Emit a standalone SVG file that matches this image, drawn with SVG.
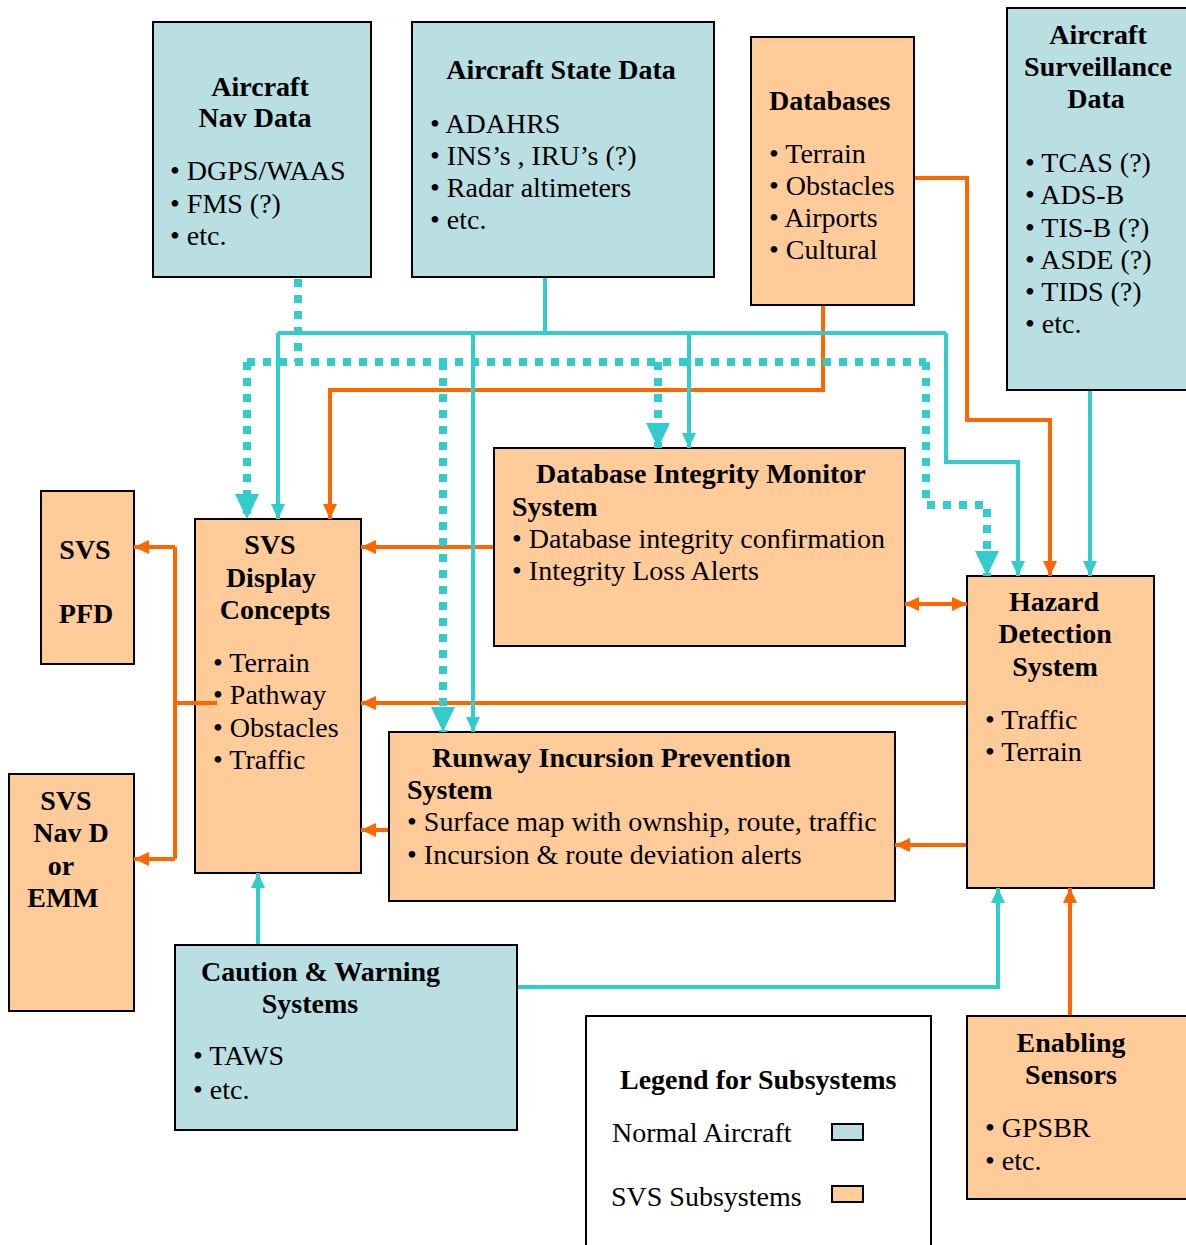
<svg xmlns="http://www.w3.org/2000/svg" width="1186" height="1245" viewBox="0 0 1186 1245" font-family="'Liberation Serif', 'Times New Roman', serif" font-size="28">
<style>
.blue{fill:#b9dfe2;stroke:#000;stroke-width:2}
.orng{fill:#ffcc99;stroke:#000;stroke-width:2}
.wht{fill:#fff;stroke:#000;stroke-width:2}
.t{font-weight:bold}
.c{text-anchor:middle}
.cy{fill:none;stroke:#33cccc;stroke-width:4}
.cyd{fill:none;stroke:#33cccc;stroke-width:8;stroke-dasharray:8 8}
.or{fill:none;stroke:#ff6600;stroke-width:4}
</style>
<defs>
<marker id="aC" markerUnits="userSpaceOnUse" markerWidth="16" markerHeight="16" refX="15" refY="8" orient="auto"><path d="M0,1 L15,8 L0,15 Z" fill="#33cccc"/></marker>
<marker id="aD" markerUnits="userSpaceOnUse" markerWidth="26" markerHeight="26" refX="25" refY="13" orient="auto"><path d="M0,1 L25,13 L0,25 Z" fill="#33cccc"/></marker>
<marker id="aO" markerUnits="userSpaceOnUse" markerWidth="16" markerHeight="16" refX="15" refY="8" orient="auto"><path d="M0,1 L15,8 L0,15 Z" fill="#ff6600"/></marker>
<marker id="aOs" markerUnits="userSpaceOnUse" markerWidth="16" markerHeight="16" refX="1" refY="8" orient="auto"><path d="M15,1 L0,8 L15,15 Z" fill="#ff6600"/></marker>
</defs>
<g id="nav-data">
<rect class="blue" x="153" y="22" width="218" height="255"/>
<text class="t c" x="260" y="96">Aircraft</text>
<text class="t c" x="255" y="127">Nav Data</text>
<text x="170" y="180">• DGPS/WAAS</text>
<text x="170" y="213">• FMS (?)</text>
<text x="170" y="245">• etc.</text>
</g>
<g id="state-data">
<rect class="blue" x="412" y="22" width="302" height="255"/>
<text class="t c" x="561" y="79">Aircraft State Data</text>
<text x="430" y="133">• ADAHRS</text>
<text x="430" y="165">• INS’s , IRU’s (?)</text>
<text x="430" y="197">• Radar altimeters</text>
<text x="430" y="229">• etc.</text>
</g>
<g id="databases">
<rect class="orng" x="751" y="37" width="163" height="268"/>
<text class="t" x="769" y="110">Databases</text>
<text x="769" y="163">• Terrain</text>
<text x="769" y="195">• Obstacles</text>
<text x="769" y="227">• Airports</text>
<text x="769" y="259">• Cultural</text>
</g>
<g id="surveillance">
<rect class="blue" x="1007" y="8" width="190" height="382"/>
<text class="t c" x="1098" y="44">Aircraft</text>
<text class="t c" x="1098" y="76">Surveillance</text>
<text class="t c" x="1096" y="108">Data</text>
<text x="1025" y="172">• TCAS (?)</text>
<text x="1025" y="204">• ADS-B</text>
<text x="1025" y="237">• TIS-B (?)</text>
<text x="1025" y="269">• ASDE (?)</text>
<text x="1025" y="301">• TIDS (?)</text>
<text x="1025" y="333">• etc.</text>
</g>
<g id="svs-pfd">
<rect class="orng" x="41" y="491" width="93" height="173"/>
<text class="t c" x="85" y="559">SVS</text>
<text class="t c" x="86" y="623">PFD</text>
</g>
<g id="svs-display">
<rect class="orng" x="195" y="519" width="166" height="354"/>
<text class="t c" x="270" y="554">SVS</text>
<text class="t c" x="271" y="587">Display</text>
<text class="t c" x="275" y="619">Concepts</text>
<text x="213" y="672">• Terrain</text>
<text x="213" y="704">• Pathway</text>
<text x="213" y="737">• Obstacles</text>
<text x="213" y="769">• Traffic</text>
</g>
<g id="dim">
<rect class="orng" x="494" y="448" width="411" height="198"/>
<text class="t" x="536" y="483">Database Integrity Monitor</text>
<text class="t" x="512" y="516">System</text>
<text x="512" y="548">• Database integrity confirmation</text>
<text x="512" y="580">• Integrity Loss Alerts</text>
</g>
<g id="hazard">
<rect class="orng" x="967" y="576" width="187" height="312"/>
<text class="t c" x="1054" y="611">Hazard</text>
<text class="t c" x="1055" y="643">Detection</text>
<text class="t c" x="1055" y="676">System</text>
<text x="985" y="729">• Traffic</text>
<text x="985" y="761">• Terrain</text>
</g>
<g id="runway">
<rect class="orng" x="389" y="732" width="506" height="169"/>
<text class="t" x="432" y="767">Runway Incursion Prevention</text>
<text class="t" x="407" y="799">System</text>
<text x="407" y="831">• Surface map with ownship, route, traffic</text>
<text x="407" y="864">• Incursion &amp; route deviation alerts</text>
</g>
<g id="nav-d">
<rect class="orng" x="9" y="774" width="125" height="237"/>
<text class="t c" x="66" y="810">SVS</text>
<text class="t c" x="71" y="842">Nav D</text>
<text class="t c" x="61" y="875">or</text>
<text class="t c" x="63" y="907">EMM</text>
</g>
<g id="caution">
<rect class="blue" x="175" y="945" width="342" height="185"/>
<text class="t" x="201" y="981">Caution &amp; Warning</text>
<text class="t c" x="310" y="1013">Systems</text>
<text x="193" y="1065">• TAWS</text>
<text x="193" y="1099">• etc.</text>
</g>
<g id="legend">
<rect class="wht" x="586" y="1016" width="345" height="240"/>
<text class="t" x="620" y="1089">Legend for Subsystems</text>
<text x="612" y="1142">Normal Aircraft</text>
<rect class="blue" x="832" y="1124" width="31" height="16"/>
<text x="611" y="1206">SVS Subsystems</text>
<rect class="orng" x="832" y="1186" width="31" height="16"/>
</g>
<g id="enabling">
<rect class="orng" x="967" y="1016" width="230" height="183"/>
<text class="t c" x="1071" y="1052">Enabling</text>
<text class="t c" x="1071" y="1084">Sensors</text>
<text x="985" y="1137">• GPSBR</text>
<text x="985" y="1170">• etc.</text>
</g>
<g id="connectors">
<path class="or" d="M823,306 V390 H330 V519" marker-end="url(#aO)"/>
<path class="or" d="M915,178 H967 V420 H1050 V576" marker-end="url(#aO)"/>
<path class="or" d="M493,547 H361" marker-end="url(#aO)"/>
<path class="or" d="M905,604 H967" marker-start="url(#aOs)" marker-end="url(#aO)"/>
<path class="or" d="M966,703 H361" marker-end="url(#aO)"/>
<path class="or" d="M966,845 H895" marker-end="url(#aO)"/>
<path class="or" d="M388,830 H361" marker-end="url(#aO)"/>
<path class="or" d="M217,703 H175 M175,547 V859"/>
<path class="or" d="M175,547 H134" marker-end="url(#aO)"/>
<path class="or" d="M175,859 H134" marker-end="url(#aO)"/>
<path class="or" d="M1070,1015 V888" marker-end="url(#aO)"/>
<path class="cy" d="M545,278 V333 M278,333 H946"/>
<path class="cy" d="M278,333 V519" marker-end="url(#aC)"/>
<path class="cy" d="M473,333 V732" marker-end="url(#aC)"/>
<path class="cy" d="M689,333 V448" marker-end="url(#aC)"/>
<path class="cy" d="M946,333 V462 H1018 V576" marker-end="url(#aC)"/>
<path class="cy" d="M1090,391 V576" marker-end="url(#aC)"/>
<path class="cy" d="M258,944 V873" marker-end="url(#aC)"/>
<path class="cy" d="M518,987 H998 V888" marker-end="url(#aC)"/>
<path class="cyd" d="M298,279 V362 M247,362 H926"/>
<path class="cyd" d="M247,362 V519" marker-end="url(#aD)"/>
<path class="cyd" d="M443,362 V732" marker-end="url(#aD)"/>
<path class="cyd" d="M658,362 V448" marker-end="url(#aD)"/>
<path class="cyd" d="M926,362 V505 H987 V576" marker-end="url(#aD)"/>
</g>
</svg>
